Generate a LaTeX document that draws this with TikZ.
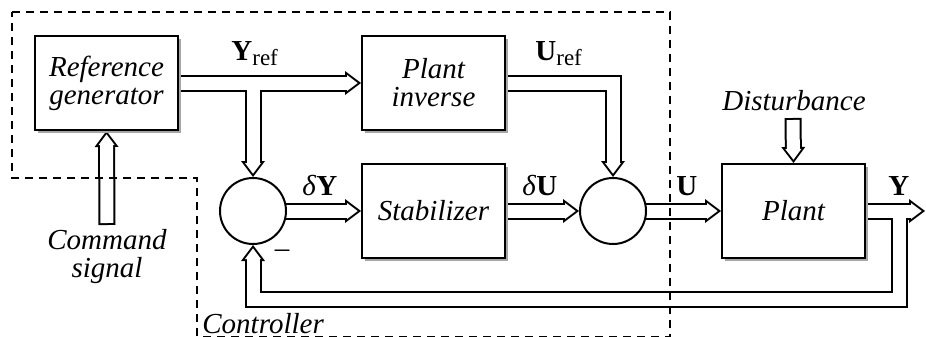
\documentclass[tikz,border=0pt]{standalone}
\usepackage{fontspec}
\setmainfont{Liberation Serif}
\usepackage{tikz}
\usetikzlibrary{arrows.meta, shadows}
\pgfdeclarelayer{back}
\pgfsetlayers{back,main}
\newcommand\lowtxt[1]{\raisebox{-0.45ex}{\fontsize{11.5}{11.5}\selectfont #1}}

\begin{document}
\begin{tikzpicture}[
            x=0.5pt, y=-0.5pt,
            every node/.style={font=\fontsize{14.5}{14}\selectfont},
            block/.style={rectangle, draw, line width=1pt, fill=white, minimum width=71.5pt, minimum height=47pt, inner sep=0pt, align=center, font=\fontsize{14.5}{14}\selectfont\itshape, drop shadow={shadow xshift=1.5pt, shadow yshift=-1.5pt, fill=gray!70, opacity=1}},
            sum/.style={circle, draw, line width=1pt, fill=white, minimum size=33pt, inner sep=0pt},
            pipeout/.style={draw=black, line width=8.5pt, -{Triangle[length=8pt, width=12pt, line width=0pt]}},
            pipein/.style={draw=white, line width=6.5pt, shorten >=1.67pt, -{Triangle[length=5.33pt, width=8pt, line width=0pt]}},
            pipeoutcap/.style={pipeout},
            pipeincap/.style={pipein, shorten <=1pt},
            sig/.style={anchor=base west, inner sep=0pt},
            boundary/.style={draw, line width=0.9pt, dash pattern=on 4pt off 3pt}
        ]
            \useasboundingbox (0,0) rectangle (926,337);

            \node[block] (refgen) at (106.5,83) {Reference\\generator};
            \node[block] (plantinv) at (433.5,83) {Plant\\inverse};
            \node[block] (stab) at (433.5,211) {Stabilizer};
            \node[block] (plant) at (793.5,211) {Plant};
            \node[sum] (sum1) at (253,211) {};
            \node[sum] (sum2) at (613,211) {};

            \coordinate (yout) at (925,211);
            \coordinate (ytap) at (899,211);
            \coordinate (fbturn) at (899,299);
            \coordinate (cmd) at (107,225);
            \coordinate (dist) at (793,118);

            \begin{pgfonlayer}{back}
                \foreach \pst in {pipeout,pipein}{
                    \draw[\pst] (refgen.east) -- (plantinv.west);
                    \draw[\pst] (sum1 |- refgen.east) -- (sum1.north);
                    \draw[\pst] (plantinv.east) -| (sum2.north);
                    \draw[\pst] (sum1.center) -- (stab.west);
                    \draw[\pst] (stab.east) -- (sum2.west);
                    \draw[\pst] (sum2.center) -- (plant.west);
                    \draw[\pst] (plant.east) -- (yout);
                    \draw[\pst] (ytap) -- (fbturn) -| (sum1.south);
                    \draw[\pst cap] (cmd) -- (refgen.south);
                    \draw[\pst cap] (dist) -- (plant.north);
                }
                \draw[boundary] (12,12) -- (670,12) -- (670,336.5) -- (197,336.5) -- (197,178) -- (12,178) -- cycle;
            \end{pgfonlayer}

            \node[sig] (yreflbl) at (231,60) {\textbf{Y}\lowtxt{ref}};
            \node[sig] (ureflbl) at (535,60) {\textbf{U}\lowtxt{ref}};
            \node[sig] (dylbl) at (302,195) {\textit{δ}\textbf{Y}};
            \node[sig] (dulbl) at (522,195) {\textit{δ}\textbf{U}};
            \node[sig] (ulbl) at (676,195) {\textbf{U}};
            \node[sig] (ylbl) at (888,195) {\textbf{Y}};
            \node[anchor=base, inner sep=0pt] (distlbl) at (794,110) {\itshape Disturbance};
            \node[align=center, font=\fontsize{14.5}{14}\selectfont\itshape] (cmdlbl) at (107,257) {Command\\signal};
            \node[sig] (ctrllbl) at (202,333) {\itshape Controller};
            \node (minus) at (282,254) {\textendash};
        \end{tikzpicture}
\end{document}
